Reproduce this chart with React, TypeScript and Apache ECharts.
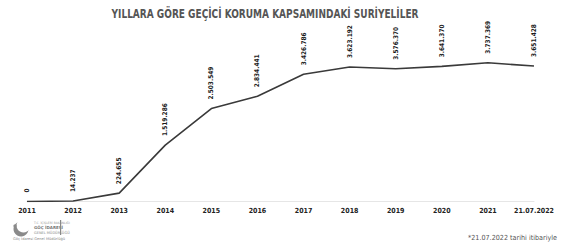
import React, { useEffect, useRef } from "react";
import * as echarts from "echarts";

const categories = ["2011", "2012", "2013", "2014", "2015", "2016", "2017", "2018", "2019", "2020", "2021", "21.07.2022"];
const values = [0, 14237, 224655, 1519286, 2503549, 2834441, 3426786, 3623192, 3576370, 3641370, 3737369, 3651428];
const titleText = "YILLARA GÖRE GEÇİCİ KORUMA KAPSAMINDAKİ SURİYELİLER";
const footnote = "*21.07.2022 tarihi itibariyle";

const fmt = (v: number) => String(v).replace(/\B(?=(\d{3})+(?!\d))/g, ".");
const COND = "DejaVu Sans Condensed, sans-serif";

export default function App() {
  const ref = useRef<HTMLDivElement>(null);
  useEffect(() => {
    if (!ref.current) return;
    const chart = echarts.init(ref.current, null, { renderer: "svg" });
    chart.setOption({
      animation: false,
      backgroundColor: "#ffffff",
      grid: { left: 27, right: 30, top: 34.5, bottom: 44.5 },
      xAxis: {
        type: "category",
        data: categories,
        boundaryGap: false,
        axisLine: { show: true, lineStyle: { color: "#e6e6e6", width: 1 } },
        axisTick: { show: false },
        axisLabel: {
          interval: 0,
          margin: 6,
          fontFamily: COND,
          fontWeight: "bold",
          fontSize: 7,
          color: "#222",
        },
      },
      yAxis: {
        type: "value",
        min: 0,
        max: 4500000,
        show: false,
        splitLine: { show: false },
      },
      series: [
        {
          type: "line",
          data: values,
          showSymbol: true,
          showAllSymbol: true,
          symbol: "circle",
          symbolSize: 2,
          itemStyle: { color: "rgba(0,0,0,0)", borderWidth: 0 },
          lineStyle: { color: "#3a3a3a", width: 1.6 },
          label: {
            show: true,
            position: "top",
            rotate: 90,
            align: "left",
            verticalAlign: "middle",
            distance: 8,
            formatter: (p: any) => fmt(p.value),
            fontFamily: COND,
            fontWeight: "bold",
            fontSize: 6.5,
            color: "#1a1a1a",
          },
        },
      ],
      graphic: [
        {
          type: "text",
          x: 265,
          y: 7,
          scaleX: 0.77,
          style: {
            text: titleText,
            align: "center",
            verticalAlign: "top",
            fontFamily: COND,
            fontWeight: "bold",
            fontSize: 13,
            fill: "#555555",
          },
        },
        { type: "circle", shape: { cx: 21, cy: 229, r: 7.5 }, style: { fill: "#8a8a8a" } },
        { type: "circle", shape: { cx: 23.5, cy: 225.5, r: 7 }, style: { fill: "#ffffff" } },
        { type: "circle", shape: { cx: 15, cy: 226, r: 1.6 }, style: { fill: "#8a8a8a" } },
        { type: "text", style: { x: 34, y: 221.5, text: "T.C. İÇİŞLERİ BAKANLIĞI", fontSize: 3, fill: "#999", fontFamily: "DejaVu Sans" } },
        { type: "text", style: { x: 34, y: 225.5, text: "GÖÇ İDARESİ", fontSize: 4, fill: "#777", fontWeight: "bold", fontFamily: "DejaVu Sans" } },
        { type: "text", style: { x: 34, y: 230.5, text: "GENEL MÜDÜRLÜĞÜ", fontSize: 3.5, fill: "#888", fontFamily: "DejaVu Sans" } },
        { type: "rect", shape: { x: 60, y: 220, width: 1.2, height: 15 }, style: { fill: "#888" } },
        { type: "text", style: { x: 13, y: 237, text: "Göç İdaresi Genel Müdürlüğü", fontSize: 3.6, fill: "#888", fontFamily: "DejaVu Sans" } },
        {
          type: "text",
          x: 557,
          y: 234.5,
          scaleX: 0.92,
          style: {
            text: footnote,
            align: "right",
            fontSize: 7,
            fill: "#555",
            fontFamily: "DejaVu Sans",
          },
        },
      ],
    });
    return () => chart.dispose();
  }, []);
  return (
    <div
      ref={ref}
      style={{ position: "fixed", left: 0, top: 0, width: 564, height: 246 }}
    />
  );
}
